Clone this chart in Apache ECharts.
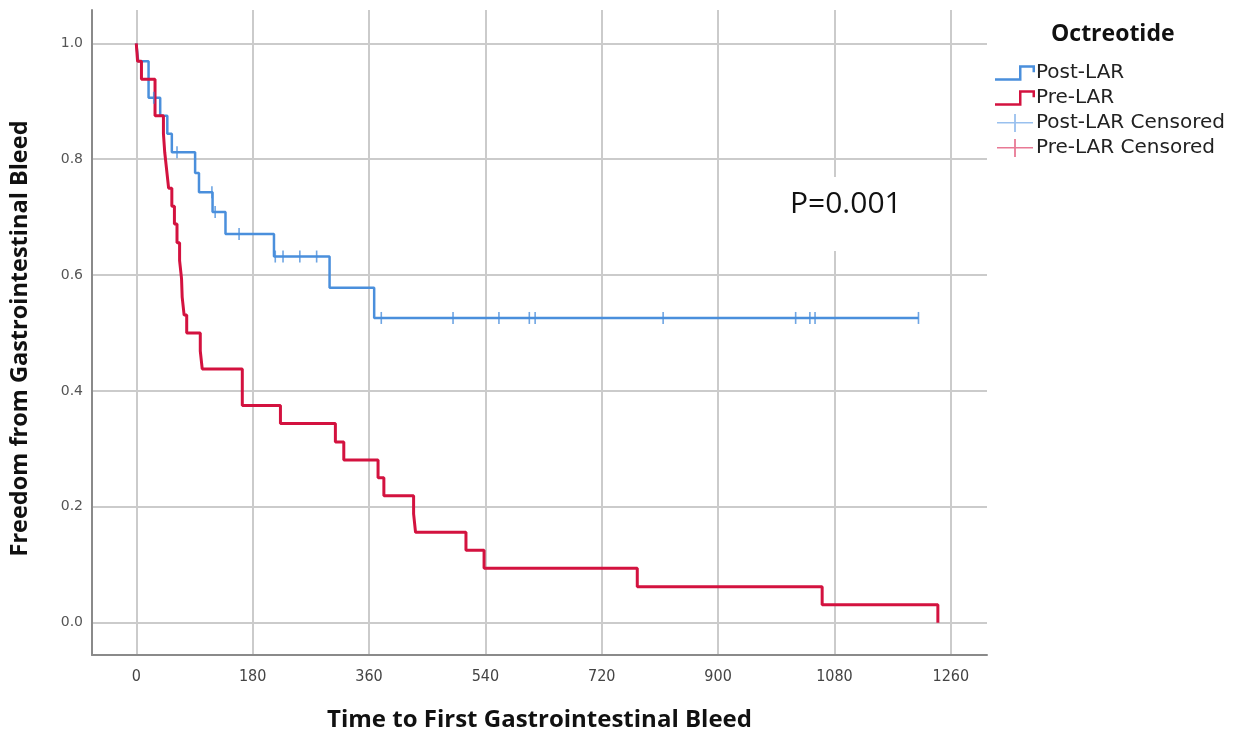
<!DOCTYPE html>
<html>
<head>
<meta charset="utf-8">
<script src="https://cdn.jsdelivr.net/npm/echarts@6/dist/echarts.min.js"></script>
<style>
  html, body { margin: 0; padding: 0; background: #fff; }
  #main { width: 1239px; height: 732px; }
</style>
</head>
<body>
<div id="main"></div>
<script>
// tick labels
var xTicks = [0, 180, 360, 540, 720, 900, 1080, 1260];
var yTicks = [0, 0.2, 0.4, 0.6, 0.8, 1.0];

// Post-LAR: event times (days) and survival after each step
var postTimes = [0, 3, 19, 37, 48, 55, 91, 97, 118, 138, 213, 299, 368, 1210];
var postSurv = [1, 0.969, 0.906, 0.875, 0.844, 0.812, 0.776, 0.743, 0.709, 0.671, 0.632, 0.578, 0.526, 0.526];
// Post-LAR censored
var postCensTimes = [27, 63, 117, 122, 159, 215, 227, 253, 279, 379, 490, 561, 608, 617, 815, 1020, 1042, 1050, 1210];
var postCensSurv = [0.906, 0.812, 0.743, 0.709, 0.671, 0.632, 0.632, 0.632, 0.632, 0.526, 0.526, 0.526, 0.526, 0.526, 0.526, 0.526, 0.526, 0.526, 0.526];

// Pre-LAR
var preTimes = [0, 2, 8, 29, 42, 44, 47, 50, 55, 59, 63, 67, 70, 71, 74, 78, 99, 102, 164, 223, 308, 321, 374, 383, 429, 432, 510, 538, 775, 1061, 1240];
var preSurv = [1, 0.969, 0.938, 0.875, 0.844, 0.812, 0.781, 0.75, 0.719, 0.688, 0.656, 0.625, 0.594, 0.562, 0.531, 0.5, 0.469, 0.438, 0.375, 0.344, 0.312, 0.281, 0.25, 0.219, 0.188, 0.156, 0.125, 0.094, 0.062, 0.031, 0];
// Pre-LAR censored (none)
var preCensTimes = [];
var preCensSurv = [];

function zip(a, b) {
    var out = [];
    for (var i = 0; i < a.length; i++) out.push([a[i], b[i]]);
    return out;
}

var blue = '#4a8fdc';
var red = '#d3123f';
var blueLight = '#7fb0ea';
var redLight = '#e2587a';

// step-shaped and cross-shaped legend icons
var stepIcon = 'path://M0,15 L24,15 L24,2 L40,2 L40,9 L37.5,9 L37.5,4.5 L26.5,4.5 L26.5,17.5 L0,17.5 Z';
var crossIcon = 'path://M0,9 L19,9 L19,0 L21,0 L21,9 L40,9 L40,10.5 L21,10.5 L21,20 L19,20 L19,10.5 L0,10.5 Z';

var chart = echarts.init(document.getElementById('main'));
chart.setOption({
    animation: false,
    backgroundColor: '#fff',
    grid: { left: 92, top: 10, right: 252, bottom: 77, containLabel: false, outerBoundsMode: 'none' },
    title: {
        text: 'Octreotide',
        left: 1046, top: 18,
        textStyle: { fontFamily: 'Open Sans', fontWeight: 'bold', fontSize: 23, color: '#111' }
    },
    legend: {
        orient: 'vertical',
        left: 990, top: 58,
        itemWidth: 40, itemHeight: 18, itemGap: 5,
        textStyle: { fontFamily: 'DejaVu Sans', fontSize: 20, color: '#222', padding: [0, 0, 0, -4] },
        data: [
            { name: 'Post-LAR', icon: stepIcon, itemStyle: { color: blue } },
            { name: 'Pre-LAR', icon: stepIcon, itemStyle: { color: red } },
            { name: 'Post-LAR Censored', icon: crossIcon, itemStyle: { color: blueLight } },
            { name: 'Pre-LAR Censored', icon: crossIcon, itemStyle: { color: redLight } }
        ]
    },
    xAxis: {
        type: 'value',
        min: -68.5, max: 1316,
        name: 'Time to First Gastrointestinal Bleed',
        nameLocation: 'middle', nameGap: 53,
        nameTextStyle: { fontFamily: 'Open Sans', fontWeight: 'bold', fontSize: 24, color: '#111' },
        axisLine: { show: true, onZero: false, lineStyle: { color: '#8a8a8a', width: 2 } },
        axisTick: { show: false, customValues: xTicks },
        axisLabel: {
            customValues: xTicks, margin: 14,
            fontFamily: 'DejaVu Sans Condensed', fontSize: 16, color: '#444',
            formatter: function (v) { return String(v); }
        },
        splitLine: { show: true, lineStyle: { color: '#cbcbcb', width: 2 } }
    },
    yAxis: {
        type: 'value',
        min: -0.0557, max: 1.0575,
        name: 'Freedom from Gastrointestinal Bleed',
        nameLocation: 'middle', nameGap: 60,
        nameTextStyle: { fontFamily: 'Open Sans', fontWeight: 'bold', fontSize: 23.5, color: '#111', padding: [0, 12, 0, 0] },
        axisLine: { show: true, onZero: false, lineStyle: { color: '#8a8a8a', width: 2 } },
        axisTick: { show: false, customValues: yTicks },
        axisLabel: {
            customValues: yTicks, margin: 9,
            fontFamily: 'DejaVu Sans', fontSize: 14, color: '#555',
            formatter: function (v) { return v.toFixed(1); }
        },
        splitLine: { show: true, lineStyle: { color: '#cbcbcb', width: 2 } }
    },
    graphic: [{
        type: 'text',
        left: 780, top: 177,
        z: 10,
        style: {
            text: 'P=0.001',
            fontFamily: 'Open Sans', fontSize: 30, fill: '#111',
            backgroundColor: '#fff',
            padding: [12, 10, 32, 10]
        }
    }],
    series: [
        {
            name: 'Post-LAR', type: 'line', step: 'end',
            data: zip(postTimes, postSurv),
            showSymbol: false, symbol: 'none',
            lineStyle: { color: blue, width: 2.5 },
            itemStyle: { color: blue },
            z: 3
        },
        {
            name: 'Pre-LAR', type: 'line', step: 'end',
            data: zip(preTimes, preSurv),
            showSymbol: false, symbol: 'none',
            lineStyle: { color: red, width: 3 },
            itemStyle: { color: red },
            z: 4
        },
        {
            name: 'Post-LAR Censored', type: 'scatter',
            data: zip(postCensTimes, postCensSurv),
            symbol: 'rect', symbolSize: [1.6, 12],
            itemStyle: { color: blue },
            z: 5
        },
        {
            name: 'Pre-LAR Censored', type: 'scatter',
            data: zip(preCensTimes, preCensSurv),
            symbol: 'rect', symbolSize: [1.6, 12],
            itemStyle: { color: red },
            z: 5
        }
    ]
});
</script>
</body>
</html>
